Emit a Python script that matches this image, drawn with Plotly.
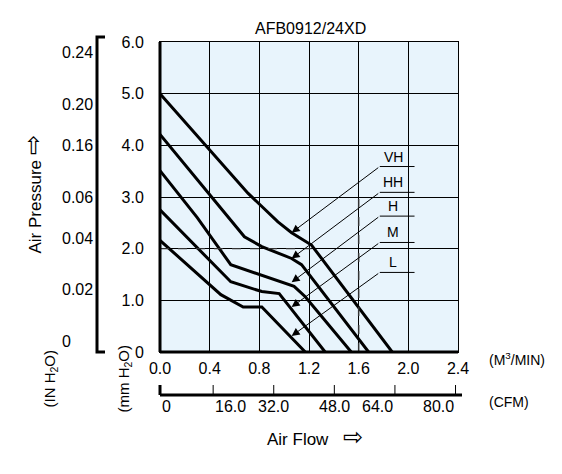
import plotly.graph_objects as go

names = ["VH", "HH", "H", "M", "L"]
curve_x = {
    "VH": [0.0, 0.71, 0.81, 0.95, 1.06, 1.22, 1.87],
    "HH": [0.0, 0.68, 0.82, 1.06, 1.14, 1.68],
    "H":  [0.0, 0.30, 0.57, 0.82, 1.08, 1.17, 1.54],
    "M":  [0.0, 0.57, 0.82, 0.96, 1.33],
    "L":  [0.0, 0.49, 0.67, 0.82, 1.17],
}
curve_y = {
    "VH": [5.0, 3.07, 2.84, 2.52, 2.31, 2.07, 0.0],
    "HH": [4.21, 2.23, 2.04, 1.81, 1.69, 0.0],
    "H":  [3.51, 2.60, 1.69, 1.49, 1.27, 1.07, 0.0],
    "M":  [2.75, 1.36, 1.17, 1.13, 0.0],
    "L":  [2.16, 1.11, 0.87, 0.87, 0.0],
}
label_y = [3.59, 3.09, 2.63, 2.12, 1.54]
tip_y = [2.31, 1.81, 1.35, 0.87, 0.31]

x_ticks = [0.0, 0.4, 0.8, 1.2, 1.6, 2.0, 2.4]
x_labels = ["0.0", "0.4", "0.8", "1.2", "1.6", "2.0", "2.4"]
mm_ticks = [0, 1, 2, 3, 4, 5, 6]
mm_labels = ["0", "1.0", "2.0", "3.0", "4.0", "5.0", "6.0"]
in_labels = ["0", "0.02", "0.04", "0.06", "0.16", "0.20", "0.24"]
cfm_ticks = [0, 16, 32, 48, 64, 80]
cfm_labels = ["0", "16.0", "32.0", "48.0", "64.0", "80.0"]

def cfm_pos(c):
    # position of a CFM tick on the M3/MIN scale, as drawn in the reference
    return max(0.0, -0.06 + 0.0305 * c)

FONT = "Liberation Sans, Arial, sans-serif"
fig = go.Figure()
for n in names:
    fig.add_trace(go.Scatter(x=curve_x[n], y=curve_y[n], mode="lines",
                             line=dict(color="black", width=3), showlegend=False, hoverinfo="skip"))

shapes = []
shapes.append(dict(type="line", xref="x", yref="y", x0=1.6, x1=1.6, y0=0, y1=3.0,
                   line=dict(color="#333", width=1.5, dash="dash")))
shapes.append(dict(type="line", xref="x", yref="y", x0=0, x1=1.22, y0=2.0, y1=2.0,
                   line=dict(color="#333", width=1.2, dash="dash")))
ann = []
for n, ly, ty in zip(names, label_y, tip_y):
    shapes.append(dict(type="line", xref="x", yref="y", x0=1.77, x1=2.05, y0=ly, y1=ly,
                       line=dict(color="black", width=1)))
    ann.append(dict(x=1.06, y=ty, ax=1.77, ay=ly, xref="x", yref="y", axref="x", ayref="y",
                    showarrow=True, arrowhead=2, arrowsize=1.6, arrowwidth=1, arrowcolor="black", text=""))
    ann.append(dict(x=1.88, y=ly, xref="x", yref="y", text=n, showarrow=False, yanchor="bottom",
                    font=dict(size=14, family=FONT, color="black")))

def px(p):
    return (p - 160) / 298.0
def py(p):
    return (352 - p) / 310.0

shapes.append(dict(type="line", xref="paper", yref="paper", x0=0, x1=0, y0=0, y1=1, line=dict(color="black", width=3)))
shapes.append(dict(type="line", xref="paper", yref="paper", x0=0, x1=1, y0=0, y1=0, line=dict(color="black", width=3)))
shapes.append(dict(type="path", xref="paper", yref="paper",
                   path=f"M {px(105)} {py(37)} L {px(97)} {py(37)} L {px(97)} {py(352)} L {px(105)} {py(352)}",
                   line=dict(color="black", width=3)))
for i, t in enumerate(in_labels):
    ann.append(dict(x=px(60), y=i / 6.0, xref="paper", yref="paper", text=t, showarrow=False,
                    font=dict(size=16, family=FONT, color="black")))
shapes.append(dict(type="line", xref="paper", yref="paper", x0=px(160), x1=px(462), y0=py(395), y1=py(395),
                   line=dict(color="black", width=3)))
for c, lab in zip(cfm_ticks, cfm_labels):
    xx = cfm_pos(c) / 2.4
    shapes.append(dict(type="line", xref="paper", yref="paper", x0=xx, x1=xx, y0=py(395), y1=py(385),
                       line=dict(color="black", width=3 if c == 0 else 1)))
    ann.append(dict(x=xx, y=py(417), xref="paper", yref="paper", text=lab, showarrow=False,
                    font=dict(size=16, family=FONT, color="black")))

ARW = "<span style='font-size:24px'>⇨</span>"
ann += [
    dict(x=px(310), y=py(18), xref="paper", yref="paper", text="AFB0912/24XD", showarrow=False,
         font=dict(size=16, family=FONT, color="black")),
    dict(x=px(487), y=py(370), xref="paper", yref="paper", text="(M<sup>3</sup>/MIN)", showarrow=False,
         xanchor="left", font=dict(size=14, family=FONT, color="black")),
    dict(x=px(487), y=py(412), xref="paper", yref="paper", text="(CFM)", showarrow=False,
         xanchor="left", font=dict(size=14, family=FONT, color="black")),
    dict(x=px(315), y=py(452), xref="paper", yref="paper", text="Air Flow   " + ARW, showarrow=False,
         font=dict(size=17, family=FONT, color="black")),
    dict(x=px(16), y=py(195), xref="paper", yref="paper", text="Air Pressure " + ARW, showarrow=False,
         textangle=-90, font=dict(size=17, family=FONT, color="black")),
    dict(x=px(38), y=py(410), xref="paper", yref="paper", text="(IN H<sub>2</sub>O)", showarrow=False,
         textangle=-90, font=dict(size=15, family=FONT, color="black")),
    dict(x=px(112), y=py(415), xref="paper", yref="paper", text="(mm H<sub>2</sub>O)", showarrow=False,
         textangle=-90, font=dict(size=15, family=FONT, color="black")),
]

# page body has an 8px margin; compensate so the plot area lands at 160..458 x 42..352
fig.update_layout(
    width=562, height=474, margin=dict(l=152, r=112, t=34, b=130),
    paper_bgcolor="white", plot_bgcolor="#e8f4fc",
    shapes=shapes, annotations=ann, showlegend=False,
    font=dict(family=FONT, size=16, color="black"),
    xaxis=dict(range=[0, 2.4], tickvals=x_ticks, ticktext=x_labels, showgrid=True, gridcolor="black",
               gridwidth=1, showline=True, mirror=True, linecolor="black", linewidth=1, zeroline=False,
               ticks="outside", ticklen=2, tickcolor="rgba(0,0,0,0)"),
    yaxis=dict(range=[0, 6], tickvals=mm_ticks, ticktext=mm_labels, showgrid=True, gridcolor="black",
               gridwidth=1, showline=True, mirror=True, linecolor="black", linewidth=1, zeroline=False,
               ticks="outside", ticklen=12, tickcolor="rgba(0,0,0,0)"),
)
fig.write_html("out.html")
